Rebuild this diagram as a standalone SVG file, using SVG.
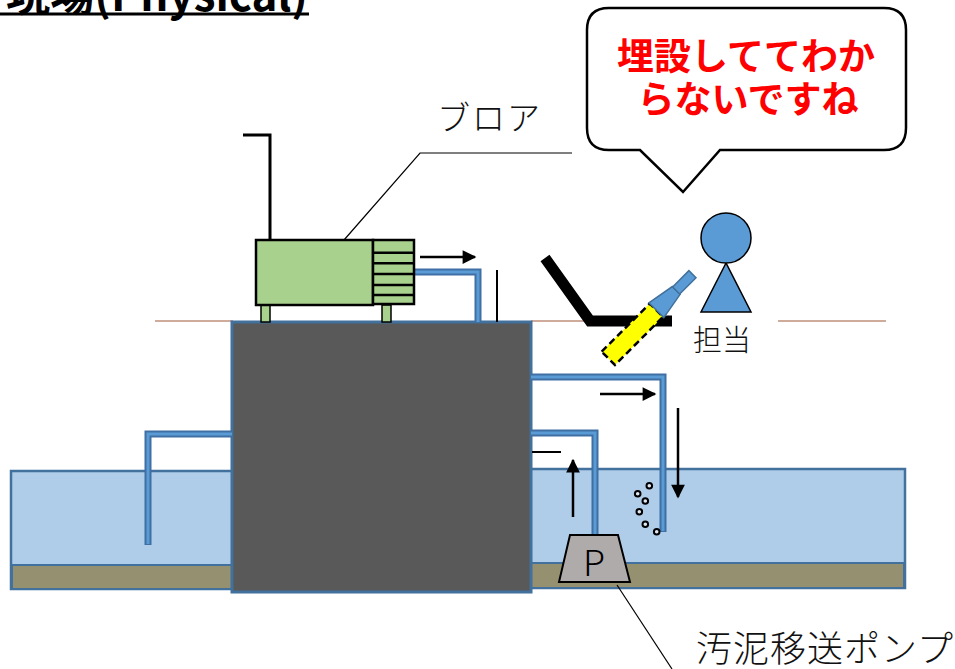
<svg xmlns="http://www.w3.org/2000/svg" width="955" height="669" viewBox="0 0 955 669">
  <defs>
    <marker id="arrow" viewBox="0 0 10 10" refX="9" refY="5" markerWidth="6" markerHeight="5.5" orient="auto-start-reverse" markerUnits="strokeWidth">
      <path d="M0,0 L10,5 L0,10 z" fill="#000"/>
    </marker>
    <style>
      .jp { font-family: "Noto Sans CJK JP", "Noto Sans", sans-serif; }
      .label { font-weight: 300; fill: #111; }
      .leader { stroke: #000; stroke-width: 1.2; fill: none; }
      .ground { stroke: #a0583a; stroke-width: 1.2; }
      .water { fill: #afcde9; stroke: #41719c; stroke-width: 2.5; }
      .mud { fill: #959170; stroke: #41719c; stroke-width: 2; }
      .pipe-out { stroke: #3f6fa3; stroke-width: 7; fill: none; stroke-linejoin: miter; }
      .pipe-in { stroke: #5b9bd5; stroke-width: 3; fill: none; stroke-linejoin: miter; }
      .flow { stroke: #000; stroke-width: 2.5; fill: none; marker-end: url(#arrow); }
      .bubble { fill: #dfe9f3; stroke: #000; stroke-width: 2; }
      .say { font-size: 37px; font-weight: 700; fill: #ff0000; }
    </style>
  </defs>

  <!-- title -->
  <g id="title">
    <text class="jp" x="308" y="11" text-anchor="end" font-size="44" font-weight="700" fill="#000">現場(Physical)</text>
    <line x1="0" y1="14" x2="309" y2="14" stroke="#000" stroke-width="3"/>
  </g>

  <!-- ground level -->
  <g id="ground">
    <line class="ground" x1="155" y1="321" x2="233" y2="321"/>
    <line class="ground" x1="531" y1="321" x2="595" y2="321"/>
    <line class="ground" x1="778" y1="321" x2="886" y2="321"/>
  </g>

  <!-- ponds -->
  <g id="pond-left">
    <rect class="water" x="11" y="471" width="222" height="118"/>
    <rect class="mud" x="12" y="565" width="220" height="24"/>
  </g>
  <g id="pond-right">
    <rect class="water" x="530" y="469" width="375" height="119"/>
    <rect class="mud" x="531" y="563" width="373" height="25"/>
  </g>

  <!-- tank -->
  <g id="tank">
    <rect x="232" y="322" width="299" height="270" fill="#595959" stroke="#41719c" stroke-width="3"/>
  </g>

  <!-- pipes -->
  <g id="pipes">
    <path class="pipe-out" d="M232,434 H148 V545"/>
    <path class="pipe-in" d="M232,434 H148 V544"/>
    <path class="pipe-out" d="M414,272 H478 V322"/>
    <path class="pipe-in" d="M414,272 H478 V322"/>
    <path class="pipe-out" d="M531,377 H663 V532"/>
    <path class="pipe-in" d="M531,377 H663 V531"/>
    <path class="pipe-out" d="M531,433 H595 V536"/>
    <path class="pipe-in" d="M531,433 H595 V536"/>
  </g>

  <!-- blower -->
  <g id="blower">
    <polyline points="243,135 270,135 270,240" fill="none" stroke="#000" stroke-width="3"/>
    <rect x="261" y="305" width="9" height="17" fill="#a9d18e" stroke="#000" stroke-width="1.5"/>
    <rect x="382" y="305" width="9" height="17" fill="#a9d18e" stroke="#000" stroke-width="1.5"/>
    <rect x="256" y="240" width="117" height="65" fill="#a9d18e" stroke="#000" stroke-width="2.5"/>
    <rect x="373" y="240" width="41" height="64" fill="#a9d18e" stroke="#000" stroke-width="2.5"/>
    <g stroke="#000" stroke-width="2.5">
      <line x1="373" y1="252.7" x2="414" y2="252.7"/>
      <line x1="373" y1="263.3" x2="414" y2="263.3"/>
      <line x1="373" y1="274" x2="414" y2="274"/>
      <line x1="373" y1="285" x2="414" y2="285"/>
      <line x1="373" y1="295" x2="414" y2="295"/>
    </g>
  </g>
  <g id="blower-label">
    <text class="jp label" x="437" y="130" style="font-size:33px; letter-spacing:2px">ブロア</text>
    <polyline class="leader" points="572,153 420,153 344,240"/>
  </g>

  <!-- short markers -->
  <g id="marks" stroke="#000" stroke-width="2">
    <line x1="497" y1="270" x2="497" y2="322"/>
    <line x1="532" y1="452" x2="561" y2="452"/>
  </g>

  <!-- flow arrows -->
  <g id="connectors">
    <line class="flow" x1="420" y1="257" x2="475" y2="257"/>
    <line class="flow" x1="600" y1="394" x2="655" y2="394"/>
    <line class="flow" x1="678" y1="408" x2="678" y2="497"/>
    <line class="flow" x1="573" y1="517" x2="573" y2="460"/>
  </g>

  <!-- aeration bubbles -->
  <g id="bubbles">
    <circle class="bubble" cx="649.3" cy="485.7" r="2.8"/>
    <circle class="bubble" cx="637.7" cy="493.7" r="2.8"/>
    <circle class="bubble" cx="645.3" cy="501" r="2.8"/>
    <circle class="bubble" cx="639.3" cy="511.7" r="2.8"/>
    <circle class="bubble" cx="645.3" cy="524.3" r="2.8"/>
    <circle class="bubble" cx="656.7" cy="531.7" r="2.8"/>
  </g>

  <!-- sludge pump -->
  <g id="pump">
    <polygon points="570,535 618,535 630,582 559,582" fill="#afabab" stroke="#000" stroke-width="2"/>
    <text class="jp" x="594" y="576" text-anchor="middle" style="font-size:36px; font-weight:300" fill="#000">P</text>
  </g>
  <g id="pump-label">
    <line class="leader" x1="617" y1="585" x2="672" y2="669"/>
    <text class="jp label" x="696" y="662" style="font-size:36px; letter-spacing:1px">汚泥移送ポンプ</text>
  </g>

  <!-- manhole cover -->
  <g id="cover">
    <polyline points="545,258 590,321 672,321" fill="none" stroke="#000" stroke-width="11" stroke-linejoin="miter"/>
  </g>

  <!-- flashlight -->
  <g id="flashlight" transform="translate(608.3,358.3) rotate(-45)">
    <rect x="0" y="-9.4" width="68" height="18.8" fill="#ffff00" stroke="#000" stroke-width="2.5" stroke-dasharray="7,4"/>
    <polygon points="68,-10.5 68,10.5 96,5.5 96,-5.5" fill="#5b9bd5" stroke="#41719c" stroke-width="1.5"/>
    <rect x="96" y="-5" width="23" height="10" fill="#5b9bd5" stroke="#41719c" stroke-width="1.5"/>
  </g>

  <!-- operator -->
  <g id="operator">
    <polygon points="726,263 701,312 751,312" fill="#5b9bd5" stroke="#000" stroke-width="1.5"/>
    <circle cx="726" cy="238" r="25" fill="#5b9bd5" stroke="#000" stroke-width="1.5"/>
    <text class="jp label" x="722" y="351" text-anchor="middle" style="font-size:29px">担当</text>
  </g>

  <!-- speech bubble -->
  <g id="speech">
    <path d="M609,8 H884 Q906,8 906,30 V128 Q906,150 884,150 H720 L683,192 L640,150 H609 Q587,150 587,128 V30 Q587,8 609,8 Z" fill="#fff" stroke="#000" stroke-width="2.5"/>
    <text class="jp say" x="746" y="70" text-anchor="middle">埋設しててわか</text>
    <text class="jp say" x="748" y="113" text-anchor="middle">らないですね</text>
  </g>
</svg>
